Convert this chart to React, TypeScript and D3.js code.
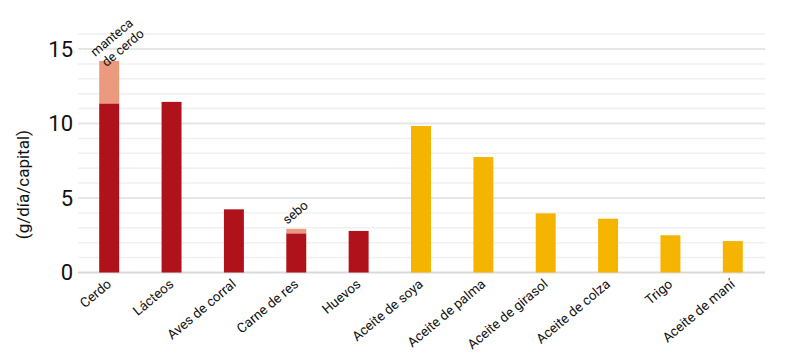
import React from "react";
import * as d3 from "d3";

const categories = [
  "Cerdo",
  "Lácteos",
  "Aves de corral",
  "Carne de res",
  "Huevos",
  "Aceite de soya",
  "Aceite de palma",
  "Aceite de girasol",
  "Aceite de colza",
  "Trigo",
  "Aceite de maní",
];
const baseValues = [11.35, 11.45, 4.24, 2.63, 2.79, 9.83, 7.75, 3.97, 3.61, 2.5, 2.11];
const fatValues = [2.85, 0, 0, 0.3, 0, 0, 0, 0, 0, 0, 0];
const isAnimal = [true, true, true, true, true, false, false, false, false, false, false];
const majorTicks = [0, 5, 10, 15];
const minorTicks = [1, 2, 3, 4, 6, 7, 8, 9, 11, 12, 13, 14, 16];

const W = 800;
const H = 359;
const RED = "#b0121b";
const LARD = "#eb9a80";
const YELLOW = "#f5b400";

export default function App() {
  const x = d3.scaleBand<string>().domain(categories).range([78, 764]).paddingInner(0.68).paddingOuter(0.34);
  const y = d3.scaleLinear().domain([0, 15]).range([272.5, 49]);
  const font = "Roboto, 'Noto Sans', sans-serif";

  return (
    <div style={{ position: "absolute", left: 0, top: 0 }}>
      <svg width={W} height={H} style={{ display: "block", background: "#fff" }} fontFamily={font}>
        {/* minor gridlines */}
        {minorTicks.map((t) => (
          <line key={"m" + t} x1={78} x2={765} y1={y(t)} y2={y(t)} stroke="#f0f0f0" strokeWidth={1.5} />
        ))}
        {majorTicks.map((t) => (
          <line key={"M" + t} x1={78} x2={765} y1={y(t)} y2={y(t)} stroke={t === 0 ? "#d9d9d9" : "#e6e6e6"} strokeWidth={2} />
        ))}
        {majorTicks.map((t) => (
          <text key={"t" + t} x={73} y={y(t)} dy="0.36em" textAnchor="end" fontSize={22} fill="#111">
            {t}
          </text>
        ))}
        <text transform={`translate(29,${y(5.9)}) rotate(-90)`} textAnchor="middle" fontSize={17} fill="#111">
          (g/día/capital)
        </text>

        {/* bars */}
        {categories.map((c, i) => (
          <g key={c}>
            <rect
              x={x(c)}
              y={y(baseValues[i])}
              width={x.bandwidth()}
              height={y(0) - y(baseValues[i])}
              fill={isAnimal[i] ? RED : YELLOW}
            />
            {fatValues[i] > 0 && (
              <rect
                x={x(c)}
                y={y(baseValues[i] + fatValues[i])}
                width={x.bandwidth()}
                height={y(baseValues[i]) - y(baseValues[i] + fatValues[i])}
                fill={LARD}
              />
            )}
          </g>
        ))}

        {/* category labels */}
        {categories.map((c) => (
          <text
            key={"l" + c}
            transform={`translate(${(x(c) ?? 0) + x.bandwidth() / 2 + 3},${y(0) + 13}) rotate(-40)`}
            textAnchor="end"
            fontSize={13.5}
            fill="#111"
          >
            {c}
          </text>
        ))}

        {/* annotations */}
        <g transform={`translate(${(x("Cerdo") ?? 0) - 4},${y(baseValues[0] + fatValues[0]) - 4}) rotate(-40)`}>
          <text x={0} y={0} fontSize={13} fill="#111">manteca</text>
          <text x={2} y={15} fontSize={13} fill="#111">de cerdo</text>
        </g>
        <text
          transform={`translate(${(x("Carne de res") ?? 0) + 1},${y(baseValues[3] + fatValues[3]) - 4}) rotate(-40)`}
          fontSize={13}
          fill="#111"
        >
          sebo
        </text>
      </svg>
    </div>
  );
}
